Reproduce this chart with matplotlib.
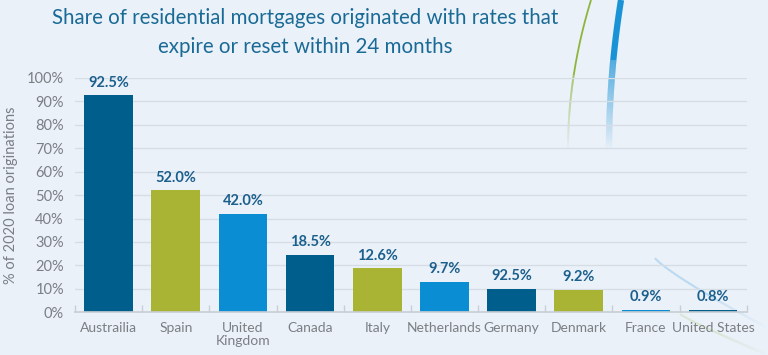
import numpy as np
import matplotlib.pyplot as plt
from matplotlib.colors import to_rgb
from matplotlib.collections import LineCollection
from matplotlib.ticker import FixedLocator, PercentFormatter

# Datos
paises = ["Austrailia", "Spain", "United\nKingdom", "Canada", "Italy",
          "Netherlands", "Germany", "Denmark", "France", "United States"]
alturas = [92.5, 52.0, 42.0, 24.5, 18.8, 13.0, 10.0, 9.5, 1.0, 1.0]
etiquetas = ["92.5%", "52.0%", "42.0%", "18.5%", "12.6%",
             "9.7%", "92.5%", "9.2%", "0.9%", "0.8%"]

azul_oscuro = "#005E8C"
oliva = "#A9B434"
azul_claro = "#0A8DD3"
colores = [azul_oscuro, oliva, azul_claro] * 3 + [azul_oscuro]

fondo = "#EAF1F9"
gris = "#7B7F84"
azul_texto = "#1B5F8C"

plt.rcParams["font.family"] = ["Lato", "DejaVu Sans"]

fig = plt.figure(figsize=(7.68, 3.55), dpi=100, facecolor=fondo)
ax = fig.add_axes([75 / 768, 1 - 312.3 / 355, 671.7 / 768, 234.4 / 355])
ax.set_facecolor("none")


def arco(xs, ys, col, lw, fin_solido, alfa_max=1.0):
    # linea decorativa: tramo solido + tramo que se desvanece hacia el fondo
    px = np.asarray(xs) / 768
    py = 1 - np.asarray(ys) / 355
    n = len(px)
    k = int(n * fin_solido)
    c1, c0 = np.array(to_rgb(col)), np.array(to_rgb(fondo))
    if k > 1:
        fig.add_artist(plt.Line2D(px[:k + 1], py[:k + 1], lw=lw, zorder=-1,
                                  color=c0 + (c1 - c0) * alfa_max,
                                  solid_capstyle="butt"))
    pts = np.column_stack([px[k:], py[k:]])
    segs = np.stack([pts[:-1], pts[1:]], axis=1)
    a = np.linspace(1, 0, len(segs)) * alfa_max
    cols = [c0 + (c1 - c0) * ai for ai in a]
    fig.add_artist(LineCollection(segs, colors=cols, linewidths=lw, zorder=-1,
                                  transform=fig.transFigure, capstyle="butt"))


t = np.linspace(0, 1, 300)
# arcos en la esquina superior derecha
arco(591 - 23 * (1 - (1 - t) ** 2), 150 * t, "#8DB53C", 1.3, 0.5)
arco(621 - 12 * (1 - (1 - t) ** 2), 150 * t, "#1A93D6", 4.5, 0.4)
# arcos tenues abajo a la derecha
arco(655 + 113 * t, 258 + 70 * t ** 0.85, "#8CC3E8", 1.5, 0.5, 0.5)
arco(680 + 88 * t, 314 + 41 * t ** 0.9, "#C2D69A", 1.5, 0.5, 0.4)

x = np.arange(len(paises))
ax.bar(x, alturas, width=0.725, color=colores, zorder=3)

for xi, h, txt in zip(x, alturas, etiquetas):
    ax.annotate(txt, (xi, h), xytext=(0, 4), textcoords="offset points",
                ha="center", va="bottom", fontsize=10.5, fontweight="bold",
                color=azul_texto, zorder=4)

ax.set_xlim(-0.5, len(paises) - 0.5)
ax.set_ylim(0, 100)
ax.set_yticks(np.arange(0, 101, 10))
ax.yaxis.set_major_formatter(PercentFormatter(decimals=0))
ax.set_xticks(x)
ax.set_xticklabels(paises, fontsize=10, color=gris, linespacing=1.1)
ax.xaxis.set_minor_locator(FixedLocator(np.arange(-0.5, len(paises), 1)))
ax.tick_params(axis="x", which="major", length=0, pad=7)
ax.tick_params(axis="x", which="minor", length=5, direction="in",
               color="#C9CED4", width=1)
ax.tick_params(axis="y", length=0, labelsize=10.5, labelcolor=gris, pad=8)

ax.grid(axis="y", color="#D6DDE5", lw=1, zorder=0)
for lado in ["top", "right", "left"]:
    ax.spines[lado].set_visible(False)
ax.spines["bottom"].set_color("#C9CED4")
ax.spines["bottom"].set_linewidth(1.2)
ax.spines["bottom"].set_zorder(5)

ax.set_ylabel("% of 2020 loan originations", fontsize=10.5, color=gris,
              labelpad=6)

fig.text(305 / 768, 1 - 18 / 355,
         "Share of residential mortgages originated with rates that",
         ha="center", va="center", fontsize=14.8, color="#1A6A96")
fig.text(305 / 768, 1 - 47 / 355, "expire or reset within 24 months",
         ha="center", va="center", fontsize=14.8, color="#1A6A96")

fig.savefig("out.png", dpi=100, facecolor=fondo)
